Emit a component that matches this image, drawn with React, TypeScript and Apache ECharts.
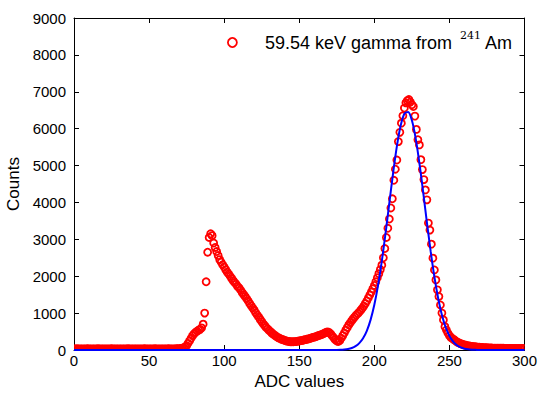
import React, { useEffect, useRef } from "react";
import * as echarts from "echarts";

// ADC channel of the first count below; one count per ADC channel.
const adcStart = 0;

// Measured counts per ADC channel (0 .. 300)
const counts = [
  // 0 - 74
  30, 28, 32, 30, 29, 31, 30, 27, 30, 32,
  30, 29, 31, 28, 30, 30, 32, 29, 30, 31,
  29, 30, 28, 31, 30, 32, 30, 29, 30, 31,
  30, 28, 30, 31, 29, 30, 32, 30, 29, 31,
  30, 29, 31, 30, 28, 30, 31, 32, 30, 29,
  30, 31, 29, 30, 32, 30, 28, 30, 31, 30,
  29, 31, 30, 32, 30, 29, 30, 31, 33, 35,
  38, 42, 50, 60, 80,
  // 75 - 92
  120, 180, 250, 320, 390, 440, 480, 510, 540, 560,
  600, 700, 1000, 1850, 2650, 3050, 3150, 3100,
  // 93 - 140
  2900, 2780, 2670, 2560, 2450, 2380, 2310, 2250, 2180, 2110,
  2060, 2000, 1940, 1880, 1830, 1780, 1720, 1680, 1620, 1560,
  1500, 1450, 1390, 1330, 1260, 1200, 1140, 1080, 1010, 950,
  890, 830, 770, 710, 660, 610, 570, 530, 490, 450,
  420, 390, 360, 335, 315, 295, 280, 265,
  // 141 - 150
  250, 240, 230, 225, 222, 224, 228, 232, 238, 245,
  // 151 - 260
  255, 262, 270, 280, 290, 300, 312, 325, 338, 350,
  362, 378, 392, 405, 420, 440, 460, 480, 490, 470,
  430, 380, 330, 280, 245, 230, 260, 320, 390, 460,
  540, 610, 680, 740, 800, 850, 900, 950, 990, 1030,
  1080, 1130, 1190, 1260, 1330, 1410, 1490, 1570, 1660, 1750,
  1850, 1960, 2070, 2180, 2300, 2500, 2750, 3050, 3300, 3550,
  3850, 4100, 4600, 4900, 5150, 5650, 5900, 6150, 6350, 6560,
  6700, 6760, 6790, 6720, 6650, 6600, 6340, 5980, 5700, 5560,
  5160, 4890, 4620, 4340, 4070, 3440, 3250, 2870, 2490, 2170,
  1900, 1630, 1450, 1220, 1000, 815, 633, 540, 453, 390,
  340, 310, 280, 250, 220, 200, 180, 165, 150, 140,
  // 261 - 280
  130, 120, 112, 105, 98, 92, 87, 82, 78, 74,
  70, 67, 64, 62, 60, 58, 56, 54, 52, 50,
  // 281 - 300
  49, 48, 48, 47, 46, 46, 45, 45, 44, 44,
  43, 43, 42, 42, 41, 41, 40, 40, 40, 39,
];

// Gaussian fit curve
const fitAdc = [
  0, 175, 177.5, 180, 182.5, 185, 187.5, 190, 192.5, 195, 197.5, 200,
  202.5, 205, 207.5, 210, 212.5, 215, 217.5, 220, 222.5, 225, 227.5, 230,
  232.5, 235, 237.5, 240, 242.5, 245, 247.5, 250, 252.5, 255, 257.5, 260,
  262.5, 265, 267.5, 270, 300,
];
const fitCounts = [
  0, 3, 6, 14, 28, 55, 104, 186, 318, 521, 817, 1225,
  1759, 2415, 3173, 3989, 4797, 5521, 6079, 6404, 6455, 6226, 5745, 5072,
  4285, 3463, 2679, 1981, 1403, 950, 616, 382, 226, 129, 70, 36,
  18, 9, 4, 0, 0,
];

const xMin = 0;
const xMax = 300;
const xStep = 50;
const yMin = 0;
const yMax = 9000;
const yStep = 1000;

const seriesName = "59.54 keV gamma from 241Am";
const FONT = "Liberation Sans, Arial, sans-serif";

export default function App() {
  const ref = useRef<HTMLDivElement>(null);

  useEffect(() => {
    const chart = echarts.init(ref.current as HTMLDivElement, null, {
      renderer: "svg",
    });
    const points = counts.map((c, i) => [adcStart + i, c]);
    const fit = fitAdc.map((x, i) => [x, fitCounts[i]]);

    const axisLine = {
      show: true,
      onZero: false,
      lineStyle: { color: "#000", width: 1 },
    };
    const axisTick = {
      show: true,
      inside: true,
      length: 5,
      lineStyle: { color: "#000", width: 1 },
    };

    chart.setOption({
      animation: false,
      backgroundColor: "#fff",
      grid: {
        left: 74,
        right: 14.5,
        top: 18,
        bottom: 45,
        containLabel: false,
        outerBoundsMode: "none",
      },
      legend: {
        left: 227,
        top: 30,
        padding: 0,
        itemWidth: 9,
        itemHeight: 9,
        data: [
          {
            name: seriesName,
            icon: "circle",
            itemStyle: {
              color: "rgba(0,0,0,0)",
              borderColor: "#ff0000",
              borderWidth: 1.8,
            },
          },
        ],
        formatter: () => "{gap|}59.54 keV gamma from {sup|241} Am",
        textStyle: {
          fontFamily: FONT,
          fontSize: 18,
          color: "#000",
          lineHeight: 22,
          rich: {
            gap: { width: 23 },
            sup: {
              fontFamily: "DejaVu Serif, serif",
              fontSize: 11,
              lineHeight: 11,
              color: "#000",
              padding: [0, 0, 14, 3],
            },
          },
        },
      },
      xAxis: [
        {
          type: "value",
          position: "bottom",
          min: xMin,
          max: xMax,
          interval: xStep,
          axisLine,
          axisTick,
          splitLine: { show: false },
          axisLabel: {
            color: "#000",
            fontSize: 15,
            fontFamily: FONT,
            margin: 3,
            formatter: (v: number) => String(v),
          },
          name: "ADC values",
          nameLocation: "middle",
          nameGap: 21,
          nameTextStyle: { color: "#000", fontSize: 17, fontFamily: FONT },
        },
        {
          type: "value",
          position: "top",
          min: xMin,
          max: xMax,
          interval: xStep,
          axisLine,
          axisTick,
          splitLine: { show: false },
          axisLabel: { show: false },
        },
      ],
      yAxis: [
        {
          type: "value",
          position: "left",
          min: yMin,
          max: yMax,
          interval: yStep,
          axisLine,
          axisTick,
          splitLine: { show: false },
          axisLabel: {
            color: "#000",
            fontSize: 15,
            fontFamily: FONT,
            margin: 8,
            formatter: (v: number) => String(v),
          },
          name: "Counts",
          nameLocation: "middle",
          nameGap: 48,
          nameRotate: 90,
          nameTextStyle: { color: "#000", fontSize: 17, fontFamily: FONT },
        },
        {
          type: "value",
          position: "right",
          min: yMin,
          max: yMax,
          interval: yStep,
          axisLine,
          axisTick,
          splitLine: { show: false },
          axisLabel: { show: false },
        },
      ],
      series: [
        {
          name: seriesName,
          type: "custom",
          xAxisIndex: 0,
          yAxisIndex: 0,
          z: 2,
          encode: { x: 0, y: 1 },
          data: points,
          renderItem: (params: any, api: any) => {
            const p = api.coord([api.value(0), api.value(1)]);
            const cs = params.coordSys;
            return {
              type: "circle",
              shape: { cx: p[0], cy: p[1], r: 3.5 },
              style: { fill: "none", stroke: "#ff0000", lineWidth: 1.8 },
              clipPath: {
                type: "rect",
                shape: { x: cs.x, y: cs.y, width: cs.width, height: cs.height },
              },
            };
          },
        },
        {
          name: "fit",
          type: "line",
          xAxisIndex: 0,
          yAxisIndex: 0,
          z: 3,
          data: fit,
          showSymbol: false,
          smooth: 0.3,
          lineStyle: { color: "#0000ff", width: 2 },
          itemStyle: { color: "#0000ff" },
        },
      ],
    });

    return () => chart.dispose();
  }, []);

  return (
    <div
      ref={ref}
      style={{ position: "fixed", left: 0, top: 0, width: 539, height: 395 }}
    />
  );
}
